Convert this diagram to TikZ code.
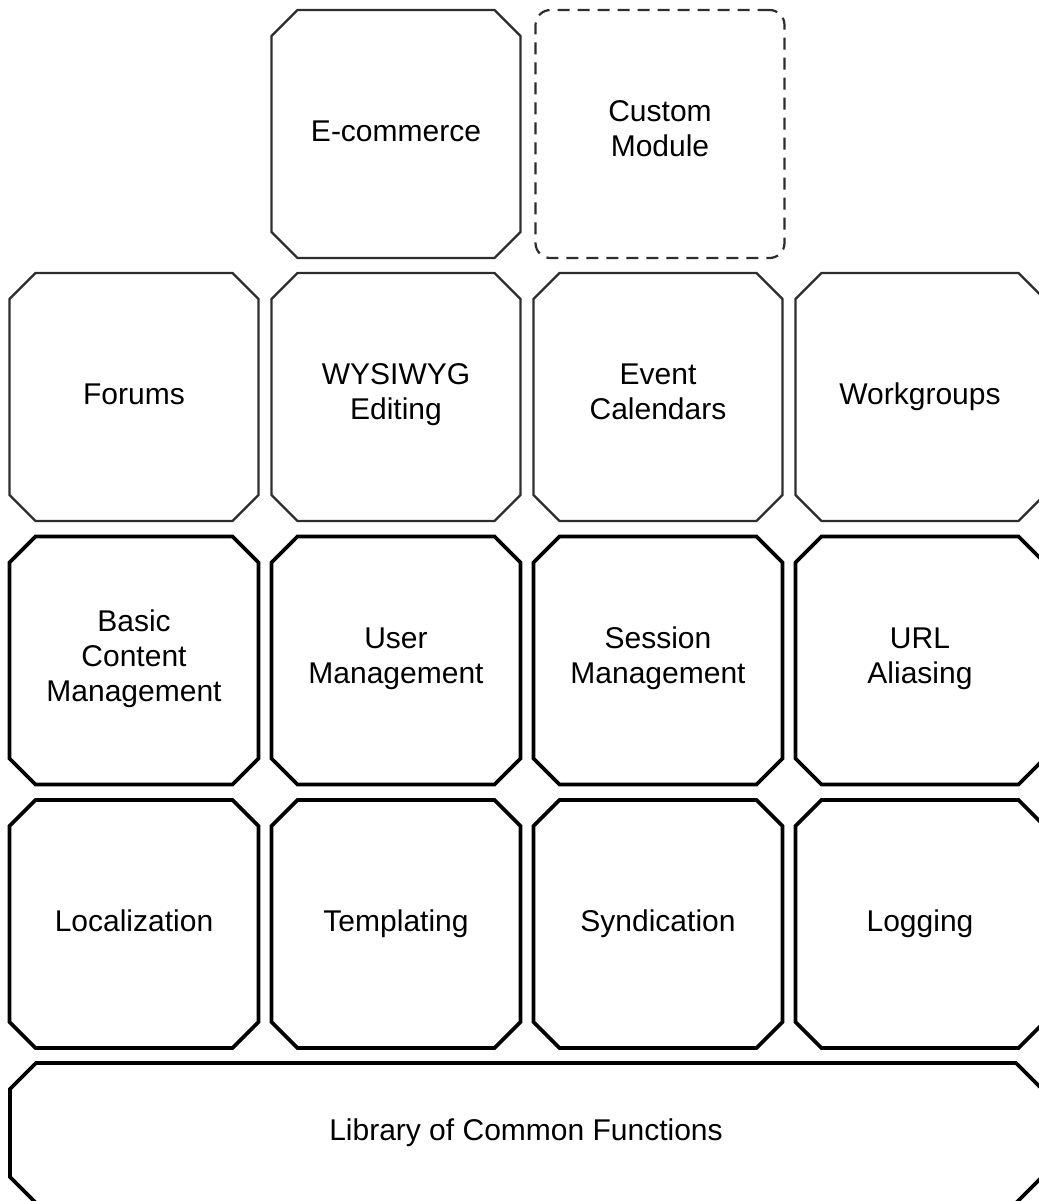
\documentclass[tikz,border=0pt]{standalone}
\usepackage{fontspec}
\setmainfont{Liberation Sans}
\usepackage{tikz}
\usetikzlibrary{positioning,shapes.misc}
\definecolor{modline}{RGB}{45, 45, 45}

\begin{document}
\begin{tikzpicture}[
  node distance=7.75pt and 6.5pt,
  modbox/.style={chamfered rectangle, chamfered rectangle xsep=6.5pt, chamfered rectangle ysep=6.5pt, draw=black, line width=1.8pt, outer sep=0pt, inner sep=2pt, minimum width=124.5pt, minimum height=124pt, align=center, font=\fontsize{15}{17.5}\selectfont, execute at begin node=\strut, execute at end node=\strut},
  addbox/.style={modbox, draw=modline, line width=1.1pt},
  custbox/.style={rectangle, rounded corners=7.5pt, draw=modline, line width=1.1pt, dash pattern=on 6pt off 4pt, outer sep=0pt, minimum width=124.5pt, minimum height=124pt, align=center, font=\fontsize{15}{17.5}\selectfont, execute at begin node=\strut, execute at end node=\strut}
]
  \useasboundingbox (0,0) rectangle (519.5pt,-600.5pt);
  % optional modules
  \node[addbox] (forums) at (67pt,-198.5pt) {Forums};
  \node[addbox, right=of forums] (wysiwyg) {WYSIWYG\\Editing};
  \node[addbox, right=of wysiwyg] (events) {Event\\Calendars};
  \node[addbox, right=of events] (groups) {Workgroups};
  \node[addbox, above=7.5pt of wysiwyg] (shop) {E-commerce};
  \node[custbox, above=7.5pt of events, xshift=1pt] (custom) {Custom\\Module};
  % core modules
  \node[modbox, below=of forums] (content) {Basic\\Content\\Management};
  \node[modbox, right=of content] (users) {User\\Management};
  \node[modbox, right=of users] (session) {Session\\Management};
  \node[modbox, right=of session] (alias) {URL\\Aliasing};
  \node[modbox, below=of content] (locale) {Localization};
  \node[modbox, right=of locale] (templ) {Templating};
  \node[modbox, right=of templ] (synd) {Syndication};
  \node[modbox, right=of synd] (logs) {Logging};
  \node[modbox, minimum width=516pt, minimum height=70pt] (library) at (263pt,-566.5pt) {Library of Common Functions};
\end{tikzpicture}
\end{document}
